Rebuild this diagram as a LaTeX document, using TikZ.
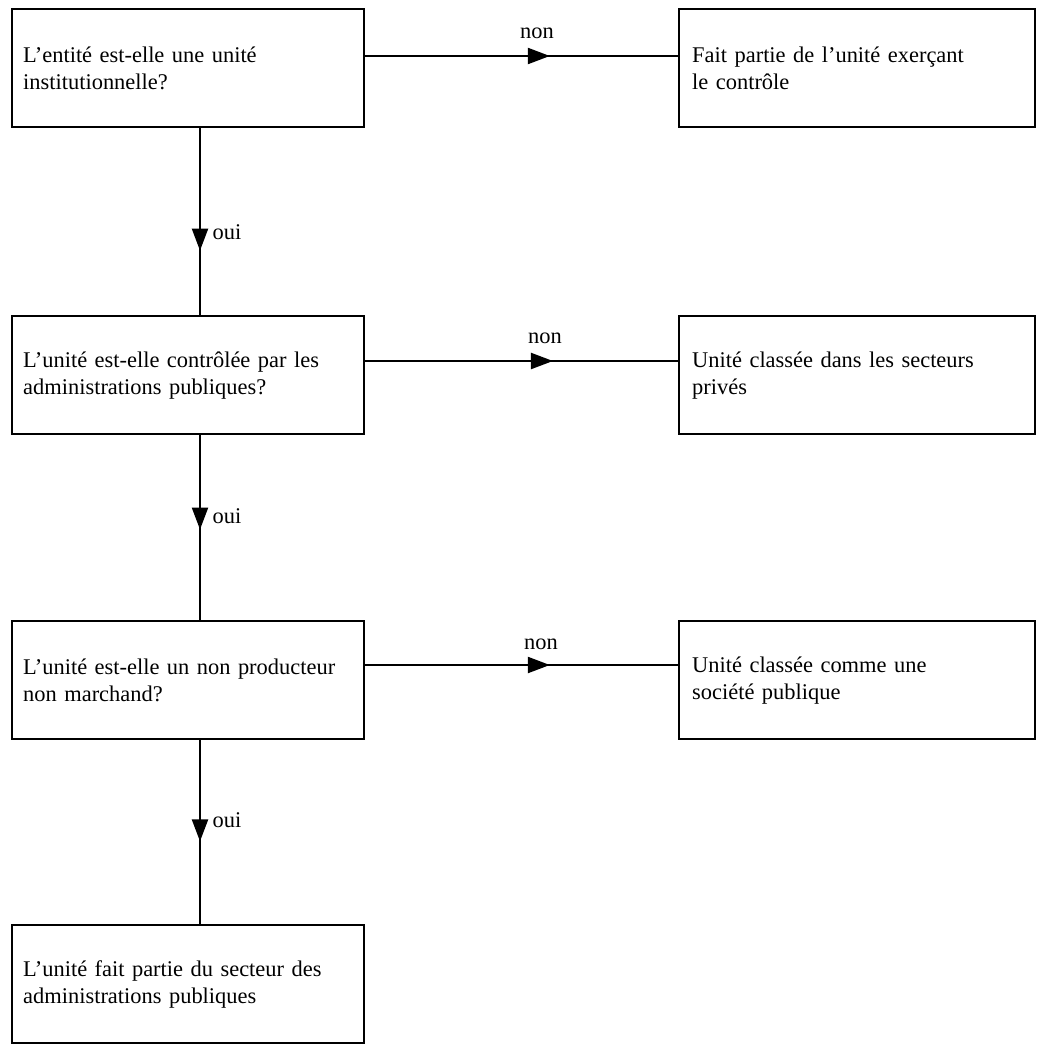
\documentclass[tikz,border=0pt]{standalone}
\usepackage{fontspec}
\setmainfont{Liberation Serif}
\newfontfamily\boxfamily[WordSpace=1.8,Scale=1.02]{Liberation Serif}
\usetikzlibrary{decorations.markings,arrows.meta,calc}
\begin{document}
\begin{tikzpicture}[x=0.5pt,y=-0.5pt,
  box/.style={draw,line width=1.2pt,minimum width=176pt,minimum height=59pt,
    text width=165pt,align=left,inner xsep=5.5pt,anchor=north west,
    font=\boxfamily\fontsize{11}{13.5}\selectfont},
  rbox/.style={box,minimum width=178pt},
  lbl/.style={font=\boxfamily\fontsize{11}{13.5}\selectfont,inner sep=0pt},
  flow/.style={line width=1.1pt,postaction={decorate},
    decoration={markings,mark=at position #1 with {\arrow{Triangle[length=11pt,width=8pt]}}}}
]
\useasboundingbox (0,0) rectangle (1040,1049);
\node[box] (q1) at (11,8) {L’entité est-elle une unité\\institutionnelle?};
\node[box] (q2) at (11,315) {L’unité est-elle contrôlée par les\\administrations publiques?};
\node[box] (q3) at (11,620) {L’unité est-elle un non producteur\\non marchand?};
\node[box] (q4) at (11,924) {L’unité fait partie du secteur des\\administrations publiques};
\node[rbox] (r1) at (678,8) {Fait partie de l’unité exerçant\\le contrôle};
\node[rbox] (r2) at (678,315) {Unité classée dans les secteurs\\privés};
\node[rbox] (r3) at (678,620) {Unité classée comme une\\société publique};
\coordinate (vx) at (200,0);
\coordinate (h1) at (0,56);
\coordinate (h2) at (0,361);
\coordinate (h3) at (0,665);
\draw[flow=0.59] (q1.east |- h1) -- (r1.west |- h1);
\draw[flow=0.6] (q2.east |- h2) -- (r2.west |- h2);
\draw[flow=0.59] (q3.east |- h3) -- (r3.west |- h3);
\draw[flow=0.655] (q1.south -| vx) -- (q2.north -| vx);
\draw[flow=0.51] (q2.south -| vx) -- (q3.north -| vx);
\draw[flow=0.55] (q3.south -| vx) -- (q4.north -| vx);
\node[lbl] (n1) at (537,33) {non};
\node[lbl] (n2) at (545,338) {non};
\node[lbl] (n3) at (541,644) {non};
\node[lbl] (o1) at (227,232) {oui};
\node[lbl] (o2) at (227,516) {oui};
\node[lbl] (o3) at (227,820) {oui};
\end{tikzpicture}
\end{document}
